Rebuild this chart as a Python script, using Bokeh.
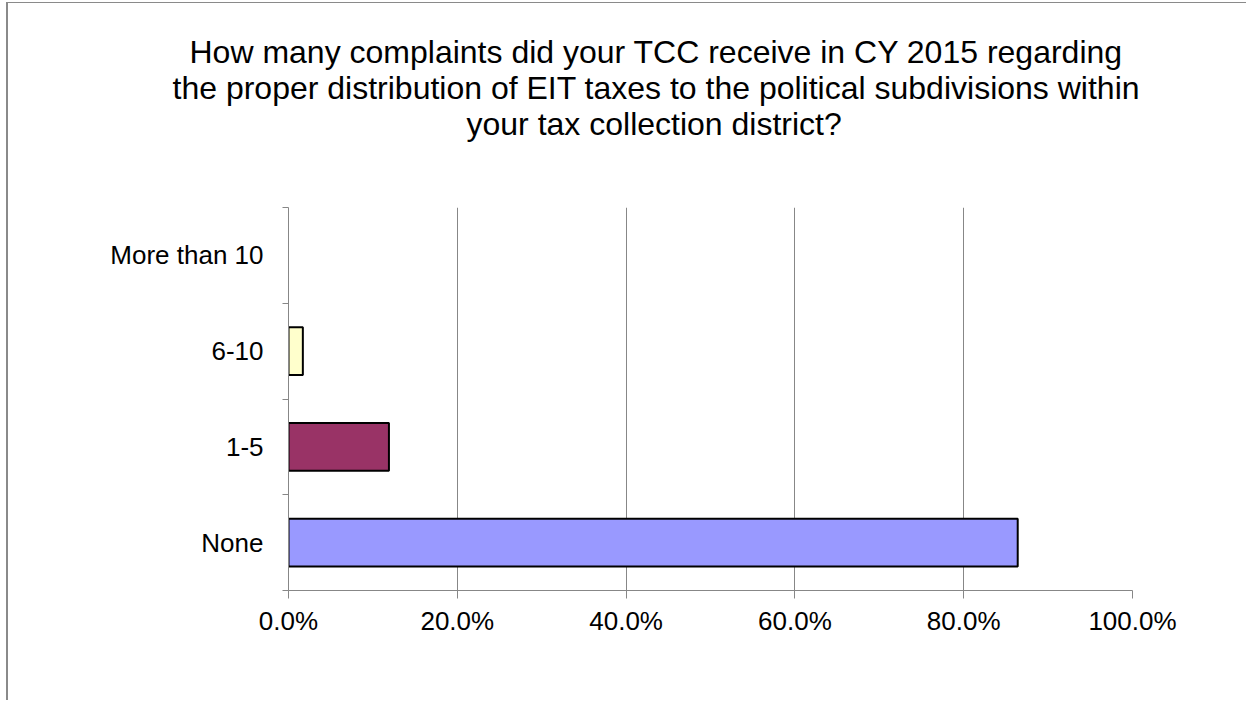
from bokeh.plotting import figure
from bokeh.models import (Range1d, LinearAxis, FixedTicker,
                          NumeralTickFormatter, Title, ColumnDataSource)
from bokeh.embed import file_html
from bokeh.resources import INLINE

# ---- data ----
categories = ["None", "1-5", "6-10", "More than 10"]   # bottom to top
shares = [0.864, 0.119, 0.017, 0.0]
bar_colors = ["#9999FF", "#993366", "#FFFFCC", "#CCFFFF"]
x_ticks = [0.0, 0.2, 0.4, 0.6, 0.8, 1.0]
title_lines = [
    "How many complaints did your TCC receive in CY 2015 regarding",
    "the proper distribution of EIT taxes to the political subdivisions within",
    "your tax collection district?",
]
# horizontal offsets of each title line from the plot area's left edge (px)
title_offsets = [-99, -116, 178]

FONT = "Liberation Sans"
GRAY = "#878787"

n = len(categories)
centers = [i + 0.5 for i in range(n)]

p = figure(width=1240, height=698, output_backend="svg", toolbar_location=None,
           x_range=Range1d(0, 1), y_range=Range1d(0, n),
           y_axis_location=None, tools="",
           min_border_left=280, min_border_top=204, min_border_right=116, min_border_bottom=111,
           styles={"border-left": "2px solid #8a8a8a", "border-top": "1px solid #8a8a8a",
                   "margin-left": "6px", "margin-top": "2px"})
p.outline_line_color = None
p.background_fill_color = "white"
p.border_fill_color = "white"

line_colors = ["black" if v > 0 else "rgba(0,0,0,0)" for v in shares]
src = ColumnDataSource(dict(y=centers, val=shares, fill=bar_colors, line=line_colors))
p.hbar(y="y", left=0, right="val", height=0.5, source=src,
       fill_color="fill", line_color="line", line_width=2)

# x axis
xa = p.xaxis[0]
xa.ticker = FixedTicker(ticks=x_ticks)
xa.formatter = NumeralTickFormatter(format="0.0%")
xa.axis_line_color = GRAY
xa.major_tick_line_color = GRAY
xa.major_tick_out = 8
xa.major_tick_in = 0
xa.minor_tick_line_color = None
xa.major_label_text_font = FONT
xa.major_label_text_font_size = "26px"
xa.major_label_text_color = "black"
xa.major_label_standoff = 7
p.xgrid.grid_line_color = GRAY
p.xgrid.ticker = FixedTicker(ticks=x_ticks)
p.ygrid.grid_line_color = None

# y axis: boundary ticks (no labels)
tick_axis = LinearAxis(ticker=FixedTicker(ticks=list(range(n + 1))),
                       axis_line_color=GRAY, major_tick_line_color=GRAY,
                       major_tick_out=6, major_tick_in=0, minor_tick_line_color=None,
                       major_label_text_font_size="1px", major_label_text_alpha=0,
                       major_label_standoff=0)
p.add_layout(tick_axis, "left")

# y axis: category labels at band centres
cat_axis = LinearAxis(ticker=FixedTicker(ticks=centers),
                      major_label_overrides={c: lab for c, lab in zip(centers, categories)},
                      axis_line_color=None, major_tick_line_color=None,
                      major_tick_out=0, major_tick_in=0, minor_tick_line_color=None,
                      major_label_text_font=FONT, major_label_text_font_size="26px",
                      major_label_text_color="black", major_label_standoff=19)
p.add_layout(cat_axis, "left")

# spacer between plot area and title block
p.add_layout(Title(text=" ", standoff=29, text_font=FONT, text_font_size="32px"), "above")

# title: three lines, added from the one nearest the plot outward
for line, off in zip(reversed(title_lines), reversed(title_offsets)):
    p.add_layout(Title(text=line, align="left", offset=off, standoff=-2.5,
                       text_font=FONT, text_font_size="32px",
                       text_font_style="normal", text_color="black"), "above")

open("out.html", "w").write(file_html(p, INLINE))
